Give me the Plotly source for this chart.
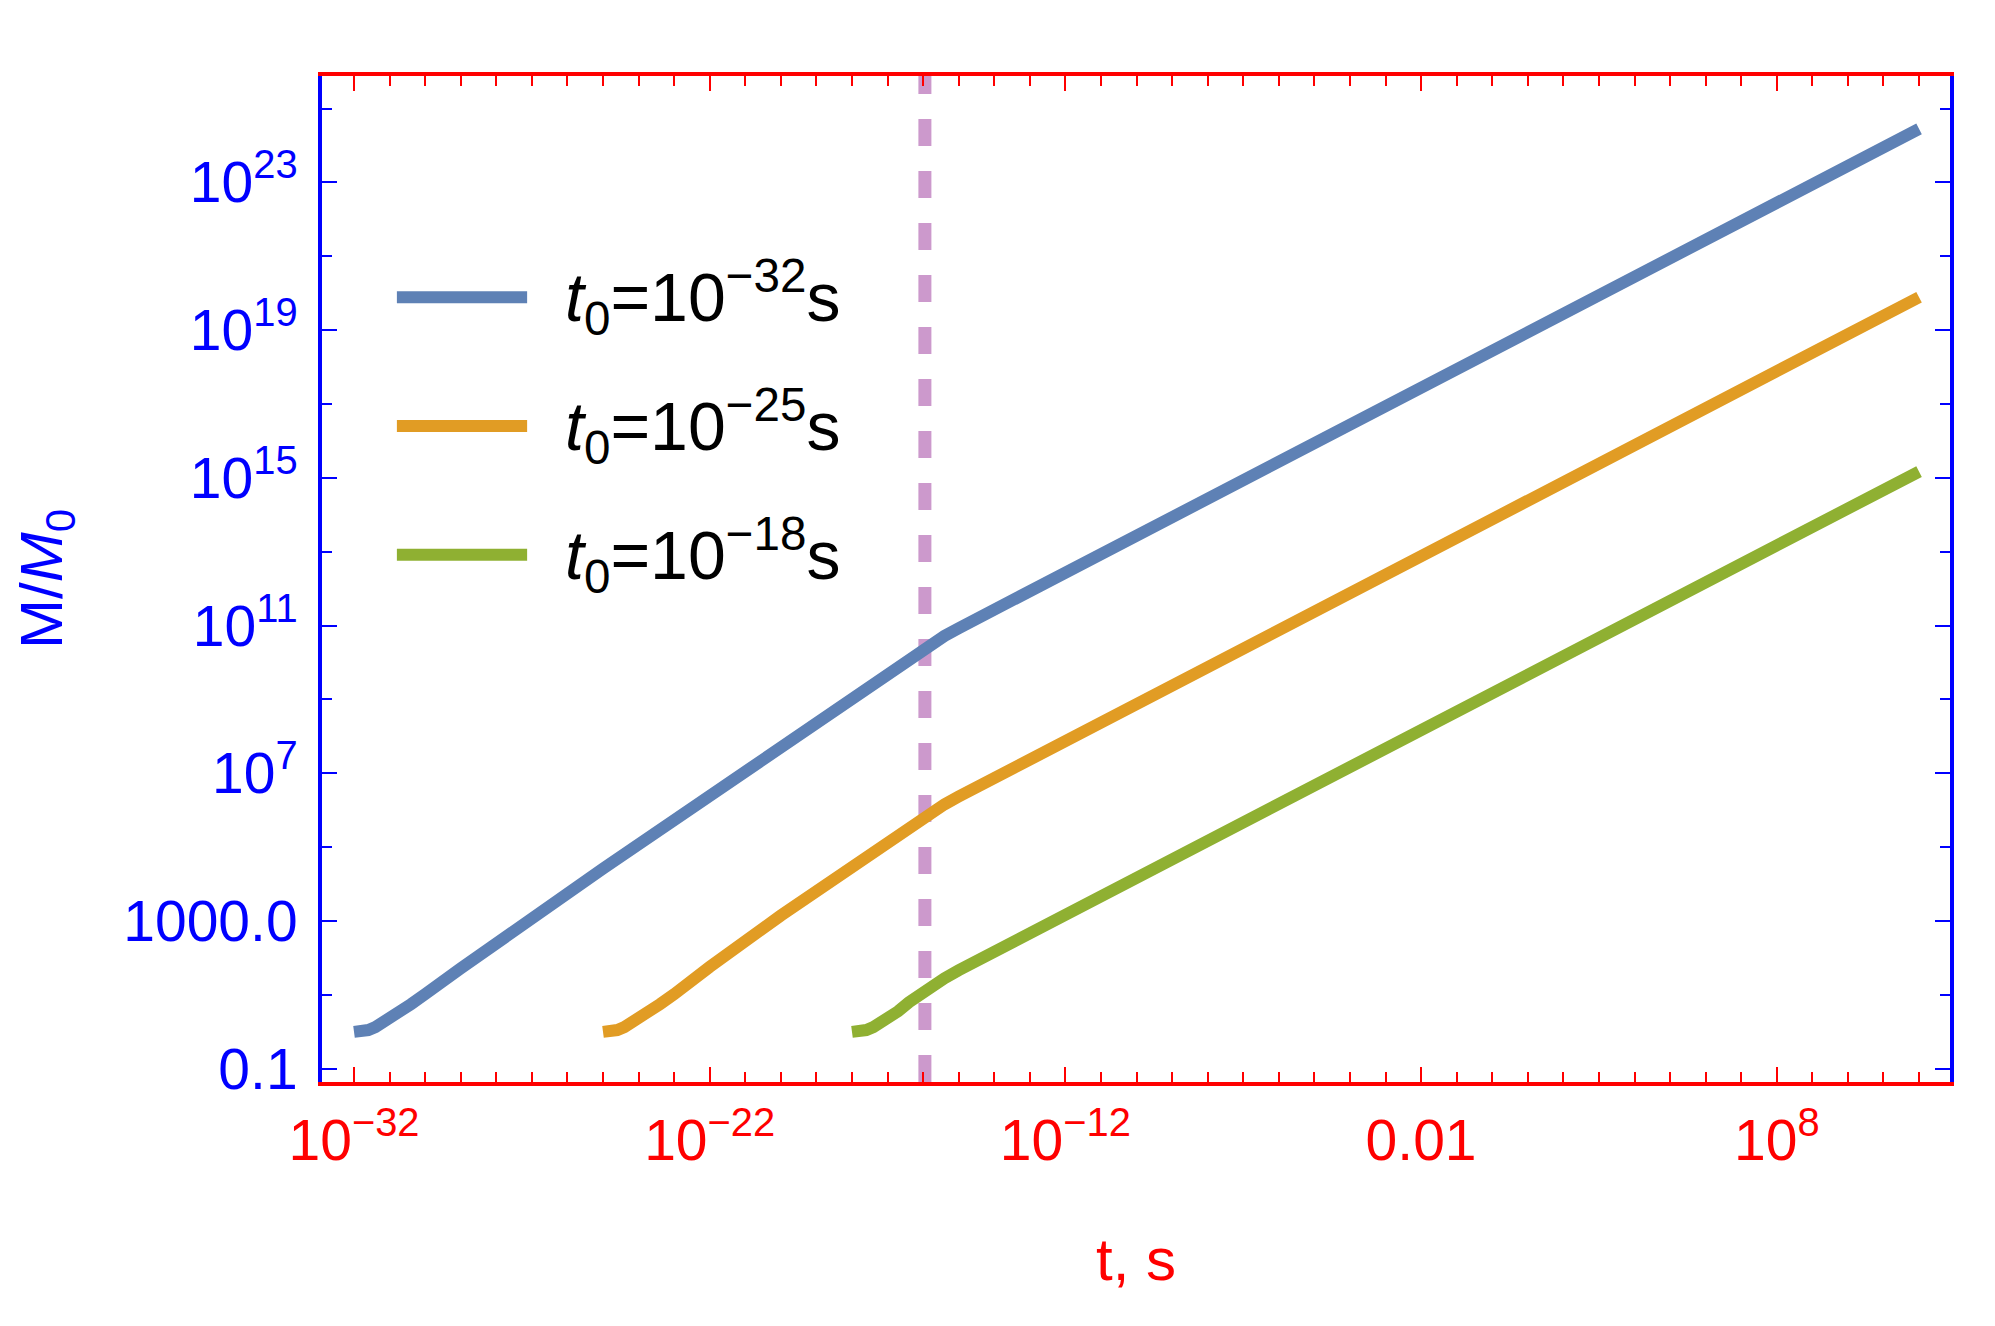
import plotly.graph_objects as go

# curves, stored as log10 values
blue_logt = [-32.0, -31.8, -31.6, -31.4, -31.2, -31.0, -30.7, -30.4, -30.0, -29.5, -29.0,
             -25.0, -20.0, -17.0, -16.5, -16.2, -15.95, -15.7, -15.4, -15.0, -10.0, 0.0, 12.0]
blue_logm = [0.0, 0.01, 0.05, 0.13, 0.24, 0.36, 0.55, 0.75, 1.02, 1.38, 1.72,
             4.42, 7.75, 9.75, 10.07, 10.26, 10.42, 10.56, 10.72, 10.93, 13.45, 18.45, 24.45]

orange_logt = [-25.0, -24.8, -24.6, -24.4, -24.2, -24.0, -23.7, -23.4, -23.0, -22.5, -22.0,
               -20.0, -17.0, -16.5, -16.2, -15.95, -15.7, -15.4, -15.0, -10.0, 0.0, 12.0]
orange_logm = [0.0, 0.01, 0.05, 0.13, 0.24, 0.36, 0.55, 0.75, 1.02, 1.40, 1.76,
               3.15, 5.17, 5.50, 5.69, 5.86, 6.00, 6.16, 6.37, 8.89, 13.89, 19.89]

green_logt = [-18.0, -17.8, -17.6, -17.4, -17.2, -17.0, -16.7, -16.4, -16.15, -15.95,
              -15.7, -15.4, -15.0, -14.0, -10.0, 0.0, 12.0]
green_logm = [0.0, 0.01, 0.05, 0.13, 0.24, 0.36, 0.56, 0.80, 0.98, 1.12,
              1.28, 1.45, 1.67, 2.17, 4.17, 9.17, 15.17]

series_logt = [blue_logt, orange_logt, green_logt]
series_logm = [blue_logm, orange_logm, green_logm]
series_names = ["<i>t</i><sub>0</sub>=10<sup>\u221232</sup>s",
                "<i>t</i><sub>0</sub>=10<sup>\u221225</sup>s",
                "<i>t</i><sub>0</sub>=10<sup>\u221218</sup>s"]
series_colors = ["#5E81B5", "#E19C24", "#8FB032"]

t_transition_exp = -15.95

x_tickvals = [1e-32, 1e-22, 1e-12, 1e-2, 1e8]
x_ticktext = ["10<sup>\u221232</sup>", "10<sup>\u221222</sup>", "10<sup>\u221212</sup>",
              "0.01", "10<sup>8</sup>"]
y_tickvals = [1e-1, 1e3, 1e7, 1e11, 1e15, 1e19, 1e23]
y_ticktext = ["0.1", "1000.0", "10<sup>7</sup>", "10<sup>11</sup>", "10<sup>15</sup>",
              "10<sup>19</sup>", "10<sup>23</sup>"]
x_minor_exp = list(range(-32, 13))
y_minor_exp = [1, 5, 9, 13, 17, 21, 25]

FONT = "Liberation Sans, Arial, sans-serif"
RED = "#FF0000"
BLUE = "#0000FF"

fig = go.Figure()

for logt, logm, name, color in zip(series_logt, series_logm, series_names, series_colors):
    fig.add_trace(go.Scatter(x=[10 ** v for v in logt], y=[10 ** v for v in logm],
                             mode="lines", name=name, showlegend=False,
                             line=dict(color=color, width=12)))

fig.add_vline(x=10 ** t_transition_exp, layer="below",
              line=dict(color="#CC99CC", width=13, dash="27px,25px"))

# legend drawn by hand so the key lines are long, like the original
leg_y = [0.780, 0.652, 0.524]
for yy, name, color in zip(leg_y, series_names, series_colors):
    fig.add_shape(type="line", xref="paper", yref="paper", x0=0.046, x1=0.126, y0=yy, y1=yy,
                  line=dict(color=color, width=12))
    fig.add_annotation(xref="paper", yref="paper", x=0.148, y=yy, text=name, showarrow=False,
                       xanchor="left", yanchor="middle", font=dict(size=68, color="black", family=FONT))

fig.update_xaxes(type="log", range=[-32.9, 12.87], automargin=False,
                 showline=True, linecolor=RED, linewidth=4, mirror="allticks",
                 ticks="inside", ticklen=15, tickwidth=1.5, tickcolor=RED,
                 tickvals=x_tickvals, ticktext=x_ticktext,
                 tickfont=dict(size=57, color=RED, family=FONT), ticklabelstandoff=6,
                 minor=dict(tickvals=[10.0 ** k for k in x_minor_exp], ticks="inside",
                            ticklen=10, tickwidth=1.5, tickcolor=RED, showgrid=False),
                 showgrid=False, zeroline=False,
                 title=dict(text="t, s", font=dict(size=60, color=RED, family=FONT), standoff=68))

fig.update_yaxes(type="log", range=[-1.357, 25.88], automargin=False,
                 showline=True, linecolor=BLUE, linewidth=4, mirror="allticks",
                 ticks="inside", ticklen=15, tickwidth=1.5, tickcolor=BLUE,
                 tickvals=y_tickvals, ticktext=y_ticktext,
                 tickfont=dict(size=57, color=BLUE, family=FONT), ticklabelstandoff=9,
                 minor=dict(tickvals=[10.0 ** k for k in y_minor_exp], ticks="inside",
                            ticklen=10, tickwidth=1.5, tickcolor=BLUE, showgrid=False),
                 showgrid=False, zeroline=False,
                 title=dict(text="M/<i>M</i><sub>0</sub>", font=dict(size=60, color=BLUE, family=FONT),
                            standoff=46))

# the page puts the plot 8px in from the top-left corner
fig.update_layout(width=1987, height=1318, margin=dict(l=314, r=45, t=68, b=244),
                  paper_bgcolor="white", plot_bgcolor="white", showlegend=False,
                  font=dict(family=FONT))

fig.write_html("out.html")
